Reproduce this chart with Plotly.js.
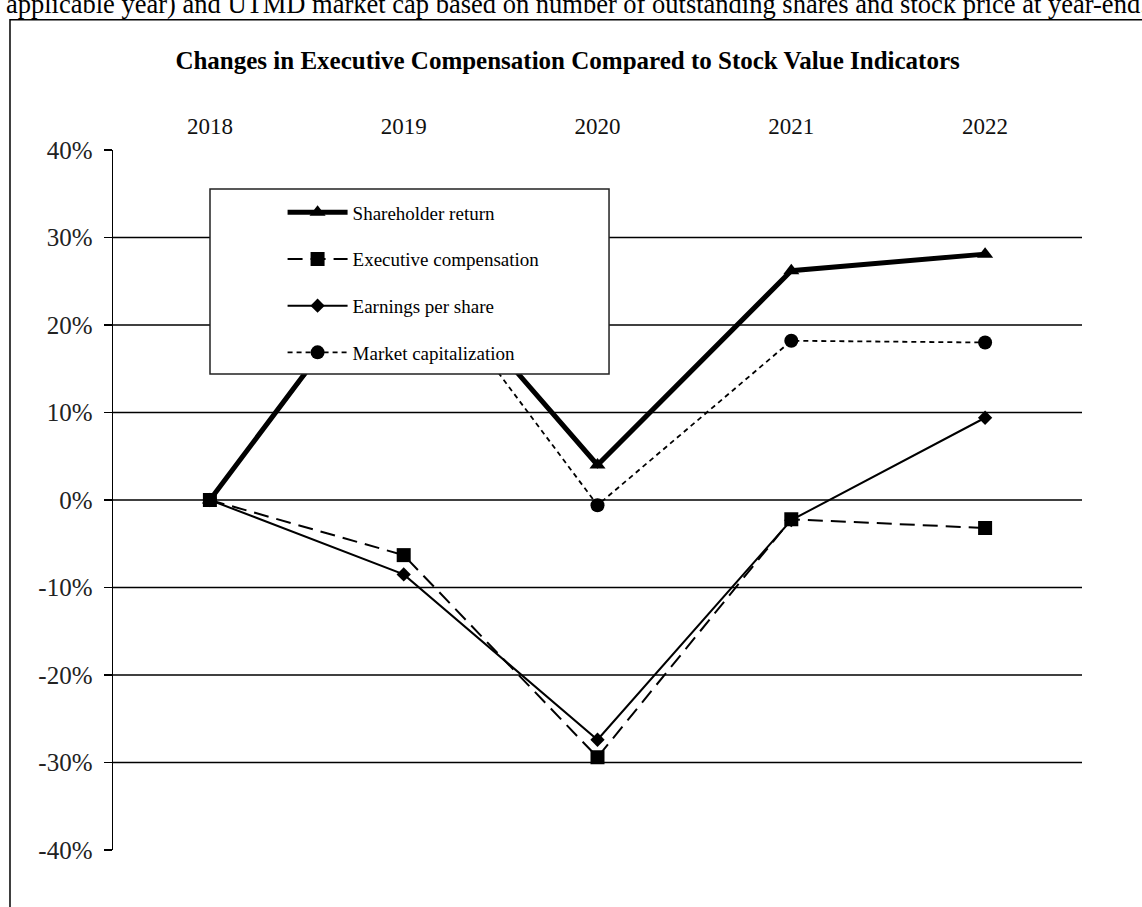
<!DOCTYPE html>
<html>
<head>
<meta charset="utf-8">
<script src="https://cdn.plot.ly/plotly-3.0.1.min.js"></script>
<style>
  html, body { margin: 0; padding: 0; background: #fff; }
  #chart { width: 1142px; height: 907px; }
</style>
</head>
<body>
<div id="chart"></div>
<script>
const years = ['2018', '2019', '2020', '2021', '2022'];
const shareholderReturn = [0, 29.5, 4.0, 26.2, 28.1];
const executiveComp = [0, -6.3, -29.4, -2.2, -3.2];
const earningsPerShare = [0, -8.5, -27.4, -2.3, 9.4];
const marketCap = [0, 29.0, -0.6, 18.2, 18.0];
const seriesNames = ['Shareholder return', 'Executive compensation', 'Earnings per share', 'Market capitalization'];
const yTicks = [-40, -30, -20, -10, 0, 10, 20, 30, 40];
const yTickLabels = ['-40%', '-30%', '-20%', '-10%', '0%', '10%', '20%', '30%', '40%'];
const gridValues = [-30, -20, -10, 0, 10, 20, 30];

const serif = 'Liberation Serif, Times New Roman, serif';

const traces = [
  {
    x: years, y: marketCap, name: seriesNames[3], type: 'scatter', mode: 'lines+markers',
    line: {color: '#000', width: 1.8, dash: '5px,4px'},
    marker: {symbol: 'circle', size: 14, color: '#000'},
    legendrank: 4, legendgroup: 'd'
  },
  {
    x: years, y: earningsPerShare, name: seriesNames[2], type: 'scatter', mode: 'lines+markers',
    line: {color: '#000', width: 2},
    marker: {symbol: 'diamond', size: 11, color: '#000'},
    legendrank: 3, legendgroup: 'c'
  },
  {
    x: years, y: executiveComp, name: seriesNames[1], type: 'scatter', mode: 'lines+markers',
    line: {color: '#000', width: 2, dash: '15px,8px'},
    marker: {symbol: 'square', size: 14, color: '#000'},
    legendrank: 2, legendgroup: 'b'
  },
  {
    x: years, y: shareholderReturn, name: seriesNames[0], type: 'scatter', mode: 'lines+markers',
    line: {color: '#000', width: 5},
    marker: {symbol: 'triangle-up', size: 14, color: '#000'},
    legendrank: 1, legendgroup: 'a'
  }
];

const shapes = gridValues.map(v => ({
  type: 'line', xref: 'paper', yref: 'y', x0: 0, x1: 1, y0: v, y1: v,
  line: {color: '#000', width: 1.3}, layer: 'below'
}));
shapes.push({
  type: 'rect', xref: 'paper', yref: 'paper',
  x0: 0.1001, x1: 0.5119, y0: 0.68, y1: 0.9443,
  fillcolor: '#fff', line: {color: '#222', width: 1.5}, layer: 'above'
});
shapes.push({
  type: 'rect', xref: 'paper', yref: 'paper',
  x0: -0.1063, x1: 1.2, y0: -0.2, y1: 1.186,
  fillcolor: 'rgba(0,0,0,0)', line: {color: '#000', width: 1.5}, layer: 'above'
});

const layout = {
  width: 1142, height: 907,
  margin: {l: 113, r: 60, t: 150, b: 57},
  paper_bgcolor: '#fff', plot_bgcolor: '#fff',
  font: {family: serif, color: '#111'},
  title: {
    text: '<b>Changes in Executive Compensation Compared to Stock Value Indicators</b>',
    font: {family: serif, size: 25, color: '#000'},
    x: 0.497, xanchor: 'center', y: 1 - 60 / 907, yanchor: 'middle', xref: 'container', yref: 'container'
  },
  xaxis: {
    type: 'category', side: 'top', range: [-0.5, 4.5],
    showline: false, showgrid: false, zeroline: false, ticks: '',
    tickfont: {family: serif, size: 23, color: '#111'},
    ticklabelstandoff: 10
  },
  yaxis: {
    range: [-40, 40], tickvals: yTicks, ticktext: yTickLabels,
    showline: true, linecolor: '#000', linewidth: 1.5,
    ticks: 'outside', ticklen: 8, tickcolor: '#000', tickwidth: 1.5,
    showgrid: false, zeroline: false,
    tickfont: {family: serif, size: 25, color: '#222'},
    ticklabelstandoff: 6
  },
  showlegend: true,
  legend: {
    x: 0.175, y: 0.938, xanchor: 'left', yanchor: 'top',
    bgcolor: 'rgba(0,0,0,0)', borderwidth: 0,
    font: {family: serif, size: 19, color: '#000'},
    traceorder: 'grouped', tracegroupgap: 19, itemwidth: 60
  },
  shapes: shapes,
  annotations: [{
    text: 'applicable year) and UTMD market cap based on number of outstanding shares and stock price at year-end.',
    xref: 'paper', yref: 'paper', x: (4 - 113) / 969, y: (850 - 4) / 700,
    xanchor: 'left', yanchor: 'middle', showarrow: false,
    font: {family: serif, size: 26.5, color: '#000'}
  }]
};

Plotly.newPlot('chart', traces, layout, {displayModeBar: false, staticPlot: true});
</script>
</body>
</html>
